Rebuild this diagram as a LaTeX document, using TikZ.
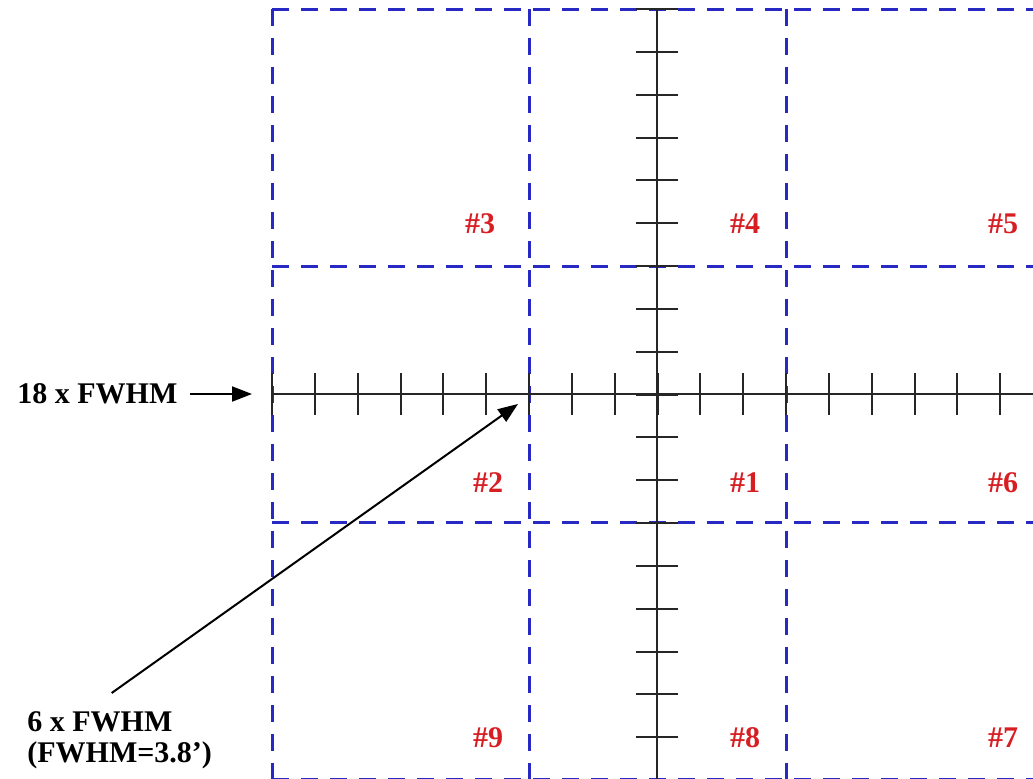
\documentclass[tikz,border=0pt]{standalone}
\usepackage{fontspec}
\setmainfont{Liberation Serif}
\usetikzlibrary{arrows.meta, positioning}
\definecolor{gridblue}{RGB}{40,40,195}
\definecolor{fieldred}{RGB}{215,30,35}

\begin{document}
\begin{tikzpicture}[
			x=0.5pt, y=-0.5pt,
			grid/.style={
				draw=gridblue,
				line width=1.5pt,
				dash pattern=on 8.5pt off 6pt
			},
			axis/.style={draw=black!85, line width=1.2pt},
			tickmark/.style={draw=black!85, line width=1pt},
			field/.style={
				text=fieldred,
				inner sep=0pt,
				font=\fontsize{15}{17}\selectfont\bfseries
			},
			note/.style={
				inner sep=0pt,
				align=left,
				font=\fontsize{15}{15.5}\selectfont\bfseries
			},
			arrow/.style={-{Triangle[length=10pt, width=7.5pt]}, line width=1pt}
			]
			
			\useasboundingbox (0,0) rectangle (1033,778);
			\clip (0,0) rectangle (1033,778);
			
			% fields
			\foreach \gx in {272,529,786,1043}
				\draw[grid] (\gx,9) -- (\gx,779);
			\foreach \gy in {9,266,522,779}
				\draw[grid] (272,\gy) -- (1043,\gy);
			
			% axes
			\coordinate (hstart) at (272,394);
			\coordinate (hend) at (1043,394);
			\coordinate (vtop) at (657,9);
			\coordinate (vbot) at (657,780);
			\draw[axis] (hstart) -- (hend);
			\draw[axis] (vtop) -- (vbot);
			\foreach \k in {0,...,18} {
				\draw[tickmark] ({272+\k*42.833},373) -- ({272+\k*42.833},415);
				\draw[tickmark] (636,{9+\k*42.833}) -- (678,{9+\k*42.833});
			}
			
			\node[field] (f3) at (480,224) {\#3};
			\node[field] (f4) at (745,224) {\#4};
			\node[field] (f5) at (1003,224) {\#5};
			\node[field] (f2) at (488,483) {\#2};
			\node[field] (f1) at (745,483) {\#1};
			\node[field] (f6) at (1003,483) {\#6};
			\node[field] (f9) at (488,738) {\#9};
			\node[field] (f8) at (745,738) {\#8};
			\node[field] (f7) at (1003,738) {\#7};
			
			% labels
			\node[note, anchor=west] (wide) at (17,394) {18 x FWHM};
			\node[note, anchor=north west] (narrow) at (27,711) {6 x FWHM\\(FWHM=3.8’)};
			\coordinate (widetip) at (252,394);
			\coordinate (narrowtip) at (518,404);
			
			\draw[arrow, shorten <=6pt] (wide.east |- widetip) -- (widetip);
			\draw[arrow] ([xshift=-4pt, yshift=9pt]narrow.north) -- (narrowtip);
			
		\end{tikzpicture}
\end{document}
